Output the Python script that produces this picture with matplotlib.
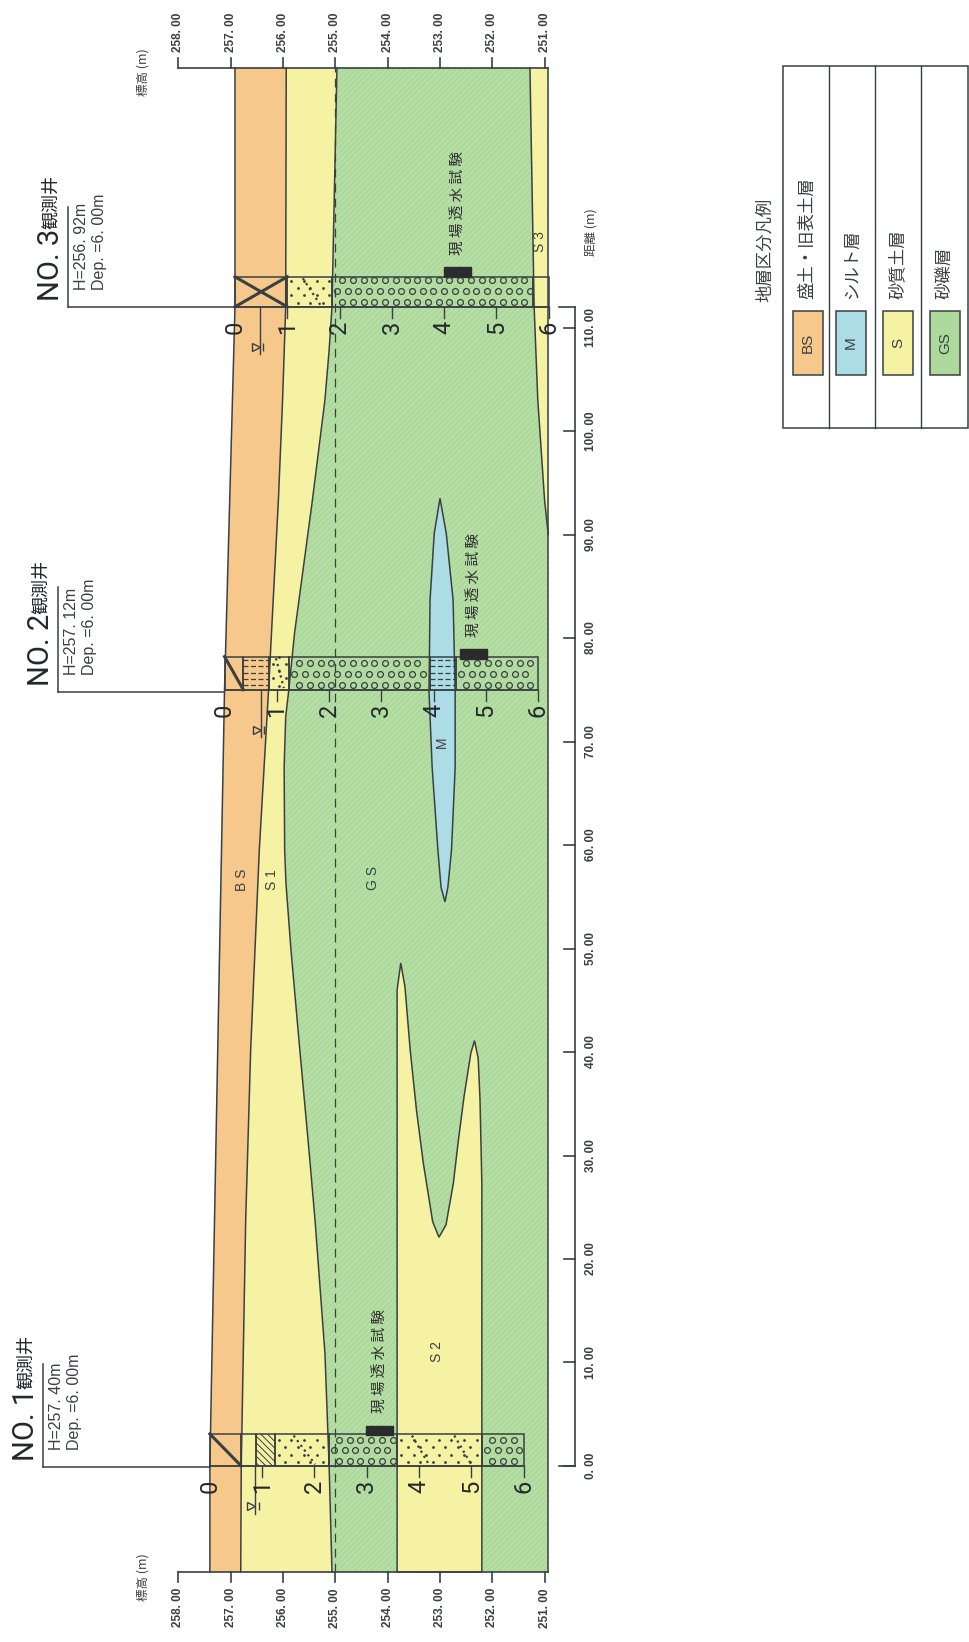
import matplotlib
matplotlib.use("Agg")
import numpy as np
import matplotlib.pyplot as plt
from matplotlib.patches import Rectangle

plt.rcParams['hatch.linewidth'] = 0.7

SANS = ['Liberation Sans', 'DejaVu Sans']
LIGHT = ['Roboto', 'DejaVu Sans']
JP = ['Noto Sans CJK JP', 'DejaVu Sans']
INK = '#3a4042'
DARK = '#24282a'
BS_COL = '#f7c88c'
S_COL = '#f6f2a4'
GS_COL = '#aed99c'
M_COL = '#acdce6'

# distance (m) along the section, elevation (m)
DIST_MIN, DIST_MAX = -10.24, 135.1
ELEV_MIN = 250.93

surface_d = [-10.24, 0, 75, 112, 135.1]
surface_e = [257.40, 257.40, 257.12, 256.92, 256.92]

bs_base_d = [-10.24, 0, 23.8, 40.2, 59.5, 74.8, 93.3, 103, 112, 135.1]
bs_base_e = [256.81, 256.80, 256.715, 256.62, 256.455, 256.28, 256.09, 256.01, 255.95, 255.94]

s1_base_d = [-10.24, 0, 10.9, 23.8, 30.5, 40.2, 49.9, 56.3, 59.5, 67.5, 72.4, 74.8,
             80.5, 86.9, 93.3, 103, 107.8, 112, 135.1]
s1_base_e = [255.065, 255.12, 255.2, 255.39, 255.505, 255.68, 255.85, 255.945, 255.97, 255.98,
             255.95, 255.895, 255.78, 255.61, 255.44, 255.2, 255.12, 255.065, 254.97]

s2_d = [-10.24, 46, 48.6, 46.3, 40.2, 34.4, 29.3, 23.6, 22.1, 23.3, 27.3, 31.2,
        35.7, 39.9, 41.1, 39.4, 35.4, 27.3, -10.24]
s2_e = [253.82, 253.82, 253.75, 253.67, 253.57, 253.45, 253.32, 253.14, 253.02, 252.885, 252.745, 252.655,
        252.54, 252.41, 252.34, 252.27, 252.235, 252.2, 252.2]

m_d = [54.5, 55.9, 59.5, 67.5, 74.8, 83.7, 90.1, 93.5, 90.1, 83.7, 74.8, 67.5, 59.5, 55.9, 54.5]
m_e = [252.905, 252.98, 253.04, 253.15, 253.21, 253.19, 253.11, 253.0, 252.88, 252.75, 252.71, 252.71, 252.78, 252.85, 252.905]

s3_d = [90, 93.3, 103, 112, 135.1]
s3_e = [250.93, 251.0, 251.13, 251.2, 251.28]

water_elev = 255.0
elev_ticks = [258, 257, 256, 255, 254, 253, 252, 251]
dist_ticks = [0, 10, 20, 30, 40, 50, 60, 70, 80, 90, 100, 110]
depth_ticks = [0, 1, 2, 3, 4, 5, 6]

# boreholes
well_names = ['NO. 1', 'NO. 2', 'NO. 3']
well_dist = [0, 75, 112]
well_width = [3.1, 3.2, 2.9]
well_h = [257.40, 257.12, 256.92]
well_info = ['H=257. 40m', 'H=257. 12m', 'H=256. 92m']
water_depth = [0.86, 0.69, 0.47]
well_layers = [
    [(0, 0.6, 'fill'), (0.6, 0.89, 'plain'), (0.89, 1.24, 'clay'), (1.24, 2.27, 'sand'),
     (2.27, 3.58, 'gravel'), (3.58, 5.2, 'sand'), (5.2, 6.0, 'gravel')],
    [(0, 0.36, 'fill'), (0.36, 0.85, 'silt'), (0.85, 1.23, 'sand'), (1.23, 3.92, 'gravel'),
     (3.92, 4.42, 'silt'), (4.42, 6.0, 'gravel')],
    [(0, 1.0, 'fillx'), (1.0, 1.85, 'sand'), (1.85, 5.7, 'gravel'), (5.7, 6.0, 'plain')],
]
test_dist = [(3.0, 3.9), (78.0, 78.9), (114.9, 115.8)]
test_elev = [(254.41, 253.90), (252.62, 252.10), (252.92, 252.40)]

legend_codes = ['BS', 'M', 'S', 'GS']
legend_names = ['盛土・旧表土層', 'シルト層', '砂質土層', '砂礫層']
legend_cols = [BS_COL, M_COL, S_COL, GS_COL]

fig = plt.figure(figsize=(9.69, 16.42), dpi=100)
ax = fig.add_axes([0, 0, 1, 1])
# rotated sheet: elevation runs left to right, distance runs bottom to top
ax.set_xlim(261.413, 242.885)
ax.set_ylim(-17.005, 141.643)
ax.axis('off')
# second axes in sheet pixels, for the notes and the legend box
pg = fig.add_axes([0, 0, 1, 1], facecolor='none')
pg.set_xlim(0, 969)
pg.set_ylim(1642, 0)
pg.axis('off')

# strata
ax.fill_betweenx(s1_base_d, s1_base_e, ELEV_MIN, facecolor=GS_COL, edgecolor='#bfe3ae', hatch='//////', lw=0)
ax.fill_betweenx(s1_base_d, s1_base_e, [256.81] * len(s1_base_d), color=S_COL, lw=0)
ax.fill(surface_e + bs_base_e[::-1], surface_d + bs_base_d[::-1], color=BS_COL, lw=0)
ax.fill(s2_e, s2_d, facecolor=S_COL, edgecolor=INK, lw=1.1)
ax.fill(m_e, m_d, facecolor=M_COL, edgecolor=INK, lw=1.1)
ax.fill(s3_e + [ELEV_MIN, ELEV_MIN], s3_d + [135.1, 90], facecolor=S_COL, lw=0)
ax.plot(s3_e, s3_d, color=INK, lw=1.1)
ax.plot(surface_e, surface_d, color=INK, lw=1.1)
ax.plot(bs_base_e, bs_base_d, color=INK, lw=1.1)
ax.plot(s1_base_e, s1_base_d, color=INK, lw=1.1)
ax.plot([water_elev, water_elev], [DIST_MIN, DIST_MAX], color=INK, lw=0.9, dashes=(7, 5))
ax.plot([ELEV_MIN, ELEV_MIN], [DIST_MIN, DIST_MAX], color=INK, lw=1.1)

# elevation scales on both ends
for end, sign in ((DIST_MIN, -1), (DIST_MAX, 1)):
    ax.plot([258, ELEV_MIN], [end, end], color=INK, lw=1.2)
    for v in elev_ticks:
        ax.plot([v, v], [end, end + sign * 0.97], color=INK, lw=1.2)
        ax.text(v, end + sign * 1.55, f'{v}. 00', rotation=90, ha='center',
                va='top' if sign < 0 else 'bottom', family=SANS, fontsize=8.5,
                weight='bold', color=INK)

# distance scale
dist_axis_e = 250.42
ax.plot([dist_axis_e, dist_axis_e], [0, 112], color=INK, lw=1.2)
ax.plot([dist_axis_e + 0.31, dist_axis_e], [0, 0], color=INK, lw=1.2)
ax.plot([dist_axis_e + 0.31, dist_axis_e], [112, 112], color=INK, lw=1.2)
for v in dist_ticks:
    ax.plot([dist_axis_e + 0.21, dist_axis_e], [v, v], color=INK, lw=1.2)
    ax.text(dist_axis_e - 0.31, v, f'{v}. 00', rotation=90, ha='center', va='center',
            family=SANS, fontsize=8.5, weight='bold', color=INK)

# boreholes
for i in range(3):
    d0 = well_dist[i]
    w = well_width[i]
    h = well_h[i]
    for top, bot, kind in well_layers[i]:
        e1, e2 = h - top, h - bot
        hatch = '\\\\\\\\\\' if kind == 'clay' else None
        ax.add_patch(Rectangle((e2, d0), e1 - e2, w, facecolor='none', edgecolor=INK,
                               hatch=hatch, lw=1.1))
        if kind in ('fill', 'fillx'):
            ax.plot([e1, e2], [d0 + w, d0], color=INK, lw=2.2)
        if kind == 'fillx':
            ax.plot([e1, e2], [d0, d0 + w], color=INK, lw=2.2)
        if kind == 'silt':
            for row in np.arange(0.45, w, 0.6):
                ax.plot([e1, e2], [d0 + row, d0 + row], color=INK, lw=0.9, dashes=(4, 2))
        if kind == 'gravel':
            # staggered rows of small open circles
            for r, row in enumerate(np.arange(0.5, w, 1.03)):
                ee = np.arange(e1 - (0.1 if r % 2 else 0.2), e2 + 0.05, -0.205)
                ax.plot(ee, [d0 + row] * len(ee), ls='none', marker='o', ms=4.2,
                        mfc='none', mec=INK, mew=0.9)
        if kind == 'sand':
            for r, row in enumerate(np.arange(0.4, w, 0.7)):
                ee = np.arange(e1 - (0.08 if r % 2 else 0.2), e2 + 0.03, -0.24)
                ax.plot(ee, [d0 + row] * len(ee), ls='none', marker='o', ms=1.0, mfc=INK, mec=INK)
            n = max(1, round((bot - top) / 0.8))
            step = (e1 - e2) / n
            for k in range(n):
                ax.plot([e1 - step * (k + 0.35), e1 - step * (k + 0.75)], [d0 + w * 0.95, d0 + w * 0.05],
                        color=INK, lw=1.6, ls=':')
    # test marker
    ax.add_patch(Rectangle((test_elev[i][1], test_dist[i][0]), test_elev[i][0] - test_elev[i][1],
                           test_dist[i][1] - test_dist[i][0], facecolor='#2b2b2b', edgecolor='#2b2b2b'))
    ax.text(sum(test_elev[i]) / 2, test_dist[i][1] + 1.2, '現 場 透 水 試 験', rotation=90, ha='center',
            va='bottom', family=JP, fontsize=10.5, color='#2b2b2b')
    # depth ticks and digits
    for v in depth_ticks[1:]:
        ax.plot([h - v, h - v], [d0, d0 - 1.05], color=INK, lw=1.0)
    for v in depth_ticks:
        ax.text(h - v, d0 - 2.0, str(v), rotation=90, ha='center', va='center',
                family=LIGHT, fontsize=17, color=DARK)
    # water level
    wl = h - water_depth[i]
    ax.plot([wl, wl], [d0, d0 - 4.6], color=INK, lw=1.0)
    ax.plot(wl + 0.07, d0 - 3.9, marker='>', ms=6, mfc='none', mec=INK, mew=1.0)
    ax.plot(wl - 0.07, d0 - 3.9, marker='|', ms=6, mec=INK, mew=1.0)
    # well line
    ax.plot([h, h - 6.0], [d0, d0], color=INK, lw=1.1)

leader_px = [43, 58, 68]
well_py = [1467, 692, 307]
note_top = [1364, 587, 207]
surf_px = [210, 224.5, 235]
for i in range(3):
    x, y = leader_px[i], well_py[i]
    pg.plot([x, surf_px[i]], [y, y], color=INK, lw=1.1)
    pg.plot([x, x], [y, note_top[i]], color=INK, lw=1.1)
    pg.text(x - 17, y - 6, well_names[i], rotation=90, ha='center', va='bottom',
            family=LIGHT, fontsize=21, color=DARK)
    pg.text(x - 17, y - 78, '観測井', rotation=90, ha='center', va='bottom',
            family=JP, fontsize=13, color=DARK)
    pg.text(x + 14, y - 17, well_info[i], rotation=90, ha='center', va='bottom',
            family=SANS, fontsize=11.5, color=INK)
    pg.text(x + 32, y - 17, 'Dep. =6. 00m', rotation=90, ha='center', va='bottom',
            family=SANS, fontsize=11.5, color=INK)

# layer names
for label, x, y in [('B S', 242, 880), ('S 1', 272, 880), ('G S', 373, 878), ('M', 442, 742),
                    ('S 2', 437, 1352), ('S 3', 540, 242)]:
    pg.text(x, y, label, rotation=90, ha='center', va='center', family=SANS, fontsize=10, color=INK)

pg.text(143, 1577, '標高 (m)', rotation=90, ha='center', va='center', family=JP, fontsize=9, color=INK)
pg.text(143, 72, '標高 (m)', rotation=90, ha='center', va='center', family=JP, fontsize=9, color=INK)
pg.text(591, 232, '距離 (m)', rotation=90, ha='center', va='center', family=JP, fontsize=9, color=INK)

# legend
box_x = [783, 829, 875, 921, 968]
pg.add_patch(Rectangle((783, 66), 185, 362, facecolor='white', edgecolor=INK, lw=1.1))
for x in box_x[1:4]:
    pg.plot([x, x], [66, 428], color=INK, lw=1.0)
pg.text(765, 302, '地層区分凡例', rotation=90, ha='center', va='bottom', family=JP, fontsize=12.5, color=INK)
swatch_x = [793, 836, 883, 930]
label_x = [807, 852, 898, 945]
for i in range(4):
    pg.add_patch(Rectangle((swatch_x[i], 311), 30, 64, facecolor=legend_cols[i], edgecolor=INK, lw=1.1))
    pg.text(swatch_x[i] + 15, 343, legend_codes[i], rotation=90, ha='center', va='center',
            family=SANS, fontsize=11, color=INK)
    pg.text(label_x[i], 299, legend_names[i], rotation=90, ha='center', va='bottom',
            family=JP, fontsize=12.5, color=INK)

fig.savefig('out.png', dpi=100, facecolor='white')
